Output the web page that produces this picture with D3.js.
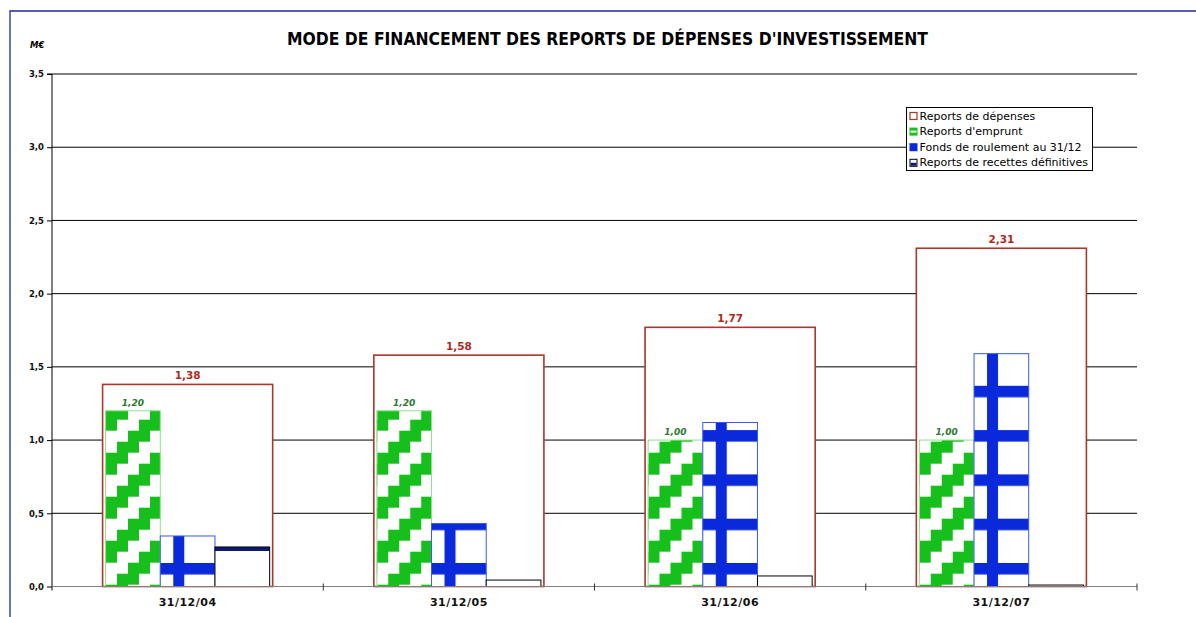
<!DOCTYPE html>
<html>
<head>
<meta charset="utf-8">
<script src="https://cdn.jsdelivr.net/npm/d3@7"></script>
<style>
  body { margin: 0; background: #fff; }
  svg { display: block; font-family: "DejaVu Sans", sans-serif; }
</style>
</head>
<body>
<svg id="chart" width="1196" height="617"></svg>
<script>
// data
const categories = ['31/12/04', '31/12/05', '31/12/06', '31/12/07'];
const reportsDepenses = [1.38, 1.58, 1.77, 2.31];
const reportsEmprunt = [1.20, 1.20, 1.00, 1.00];
const fondsRoulement = [0.345, 0.43, 1.12, 1.59];
const reportsRecettes = [0.27, 0.044, 0.072, 0.01];
const yTicks = [0, 0.5, 1, 1.5, 2, 2.5, 3, 3.5];
const legendLabels = ['Reports de dépenses', "Reports d'emprunt", 'Fonds de roulement au 31/12', 'Reports de recettes définitives'];
const innerSeries = ['emprunt', 'fonds', 'recettes'];

const svg = d3.select('#chart');
const margin = { top: 74, right: 59, bottom: 30.5, left: 52 };
const width = +svg.attr('width');
const height = +svg.attr('height');
const fmt = v => d3.format('.2f')(v).replace('.', ',');

// outer frame (only top and left show in the picture)
svg.append('path')
    .attr('d', `M10,${height + 5} V11 H${width + 5}`)
    .attr('fill', 'none')
    .attr('stroke', '#1c2a9c')
    .attr('stroke-width', 1.3);

const x0 = d3.scaleBand()
    .domain(categories)
    .range([margin.left, width - margin.right]);

const x1 = d3.scaleBand()
    .domain(innerSeries)
    .range([0, x0.bandwidth()])
    .paddingOuter(0.98);

const y = d3.scaleLinear()
    .domain([0, 3.5])
    .range([height - margin.bottom, margin.top]);

// fill patterns (bars sit in translated groups, so pattern x is group-relative)
const defs = svg.append('defs');

const green = defs.append('pattern')
    .attr('id', 'pat-green')
    .attr('patternUnits', 'userSpaceOnUse')
    .attr('x', 43).attr('y', 1.7)
    .attr('width', 44).attr('height', 44);
green.append('rect').attr('width', 44).attr('height', 44).attr('fill', '#fff');
[0, 1, 2, 3].forEach(r => {
    const start = ((22 - 11 * r) % 44 + 44) % 44;
    [start, start - 44].forEach(s => {
        green.append('rect')
            .attr('x', s).attr('y', r * 11)
            .attr('width', 22).attr('height', 11)
            .attr('fill', '#16bf1b');
    });
});

const blue = defs.append('pattern')
    .attr('id', 'pat-blue')
    .attr('patternUnits', 'userSpaceOnUse')
    .attr('x', x1('fonds')).attr('y', 31.4)
    .attr('width', x0.step()).attr('height', 44.3);
blue.append('rect').attr('width', x0.step()).attr('height', 44.3).attr('fill', '#fff');
blue.append('rect').attr('y', 0).attr('width', x0.step()).attr('height', 11.5).attr('fill', '#0a29db');
blue.append('rect').attr('x', 13).attr('width', 11).attr('height', 44.3).attr('fill', '#0a29db');

const navy = defs.append('pattern')
    .attr('id', 'pat-navy')
    .attr('patternUnits', 'userSpaceOnUse')
    .attr('x', 0).attr('y', 27)
    .attr('width', 20).attr('height', 40);
navy.append('rect').attr('width', 20).attr('height', 40).attr('fill', '#fff');
navy.append('rect').attr('width', 20).attr('height', 4).attr('fill', '#0c1a7a');

// title
svg.append('text')
    .attr('x', 607.5)
    .attr('y', 45)
    .attr('text-anchor', 'middle')
    .attr('font-family', '"DejaVu Sans Condensed", "DejaVu Sans", sans-serif')
    .attr('font-weight', 'bold')
    .attr('font-size', 17)
    .attr('textLength', 641)
    .attr('lengthAdjust', 'spacingAndGlyphs')
    .text("MODE DE FINANCEMENT DES REPORTS DE DÉPENSES D'INVESTISSEMENT");

svg.append('text')
    .attr('x', 30)
    .attr('y', 48)
    .attr('font-size', 8.5)
    .attr('font-weight', 'bold')
    .attr('font-style', 'italic')
    .text('M€');

// gridlines
svg.append('g')
    .selectAll('line')
    .data(yTicks.filter(t => t > 0))
    .enter().append('line')
    .attr('x1', margin.left)
    .attr('x2', width - margin.right)
    .attr('y1', d => y(d))
    .attr('y2', d => y(d))
    .attr('stroke', '#000')
    .attr('stroke-width', 1);

// y axis
const yAxis = d3.axisLeft(y)
    .tickValues(yTicks)
    .tickSize(5)
    .tickFormat(d => d3.format('.1f')(d).replace('.', ','));

const yG = svg.append('g')
    .attr('transform', `translate(${margin.left}, 0)`)
    .call(yAxis);
yG.select('.domain').attr('stroke', '#000').attr('d', `M-5,${y(3.5)}H0V${y(0) + 4}`);
yG.selectAll('.tick line').attr('stroke', '#000');
yG.selectAll('.tick text')
    .attr('x', -8)
    .attr('font-size', 8.5)
    .attr('font-weight', 'bold')
    .attr('font-family', '"DejaVu Sans", sans-serif')
    .attr('fill', '#111');

// big outlined bars: reports de dépenses
const groups = svg.append('g')
    .selectAll('g')
    .data(categories)
    .enter().append('g')
    .attr('transform', d => `translate(${x0(d)}, 0)`);

const outerW = x0.bandwidth() * 0.627;
groups.append('rect')
    .attr('x', (x0.bandwidth() - outerW) / 2)
    .attr('y', (d, i) => y(reportsDepenses[i]))
    .attr('width', outerW)
    .attr('height', (d, i) => y(0) - y(reportsDepenses[i]))
    .attr('fill', '#fff')
    .attr('stroke', '#a8372c')
    .attr('stroke-width', 1.6);

groups.append('text')
    .attr('x', x0.bandwidth() / 2)
    .attr('y', (d, i) => y(reportsDepenses[i]) - 5)
    .attr('text-anchor', 'middle')
    .attr('font-size', 10.5)
    .attr('font-weight', 'bold')
    .attr('fill', '#b02a1c')
    .text((d, i) => fmt(reportsDepenses[i]));

// inner bars
const inner = [
    { key: 'emprunt', values: reportsEmprunt, fill: 'url(#pat-green)', stroke: '#8ee08e' },
    { key: 'fonds', values: fondsRoulement, fill: 'url(#pat-blue)', stroke: '#3a58ea' },
    { key: 'recettes', values: reportsRecettes, fill: 'url(#pat-navy)', stroke: '#000' }
];

inner.forEach(s => {
    groups.append('rect')
        .attr('x', x1(s.key))
        .attr('y', (d, i) => y(s.values[i]))
        .attr('width', x1.bandwidth())
        .attr('height', (d, i) => y(0) - y(s.values[i]))
        .attr('fill', s.fill)
        .attr('stroke', s.stroke)
        .attr('stroke-width', 1);
});

groups.append('text')
    .attr('x', x1('emprunt') + x1.bandwidth() / 2)
    .attr('y', (d, i) => y(reportsEmprunt[i]) - 5)
    .attr('text-anchor', 'middle')
    .attr('font-size', 9)
    .attr('font-weight', 'bold')
    .attr('font-style', 'italic')
    .attr('fill', '#2b7a34')
    .text((d, i) => fmt(reportsEmprunt[i]));

// x axis
const xAxis = d3.axisBottom(x0).tickSize(0);
const xG = svg.append('g')
    .attr('transform', `translate(0, ${y(0)})`)
    .call(xAxis);
xG.select('.domain').attr('stroke', '#808080').attr('d', `M${margin.left},0H${width - margin.right}`);
xG.selectAll('.tick text')
    .attr('y', 16)
    .attr('dy', '0.3em')
    .attr('font-size', 11)
    .attr('font-weight', 'bold')
    .attr('letter-spacing', 0.5)
    .attr('font-family', '"DejaVu Sans", sans-serif')
    .attr('fill', '#111');

svg.append('g')
    .selectAll('line')
    .data(categories.slice(1).map(c => x0(c)).concat([width - margin.right]))
    .enter().append('line')
    .attr('x1', d => d).attr('x2', d => d)
    .attr('y1', y(0) - 3).attr('y2', y(0) + 4)
    .attr('stroke', '#333');

// legend
const legend = svg.append('g').attr('transform', 'translate(906.5, 107.5)');
legend.append('rect')
    .attr('width', 186)
    .attr('height', 63)
    .attr('fill', '#fff')
    .attr('stroke', '#000');

const items = legend.selectAll('g.item')
    .data(legendLabels)
    .enter().append('g')
    .attr('class', 'item')
    .attr('transform', (d, i) => `translate(3, ${4.5 + i * 15.6})`);

items.append('text')
    .attr('x', 10)
    .attr('y', 7.5)
    .attr('font-size', 11)
    .attr('fill', '#000')
    .text(d => d);

// swatches
const sw = items.filter((d, i) => i === 0);
sw.append('rect').attr('x', 0.5).attr('y', 0.5).attr('width', 7).attr('height', 7)
    .attr('fill', '#fff').attr('stroke', '#a8372c').attr('stroke-width', 1.2);

const sg = items.filter((d, i) => i === 1);
sg.append('rect').attr('width', 8).attr('height', 8).attr('fill', '#16bf1b');
sg.append('rect').attr('x', 1).attr('y', 3).attr('width', 6).attr('height', 2).attr('fill', '#fff');

items.filter((d, i) => i === 2)
    .append('rect').attr('width', 8).attr('height', 8).attr('fill', '#0a29db');

const sn = items.filter((d, i) => i === 3);
sn.append('rect').attr('x', 0.5).attr('y', 0.5).attr('width', 7).attr('height', 7)
    .attr('fill', '#fff').attr('stroke', '#000');
sn.append('rect').attr('x', 1).attr('y', 4).attr('width', 6).attr('height', 3).attr('fill', '#0c1a7a');
</script>
</body>
</html>
